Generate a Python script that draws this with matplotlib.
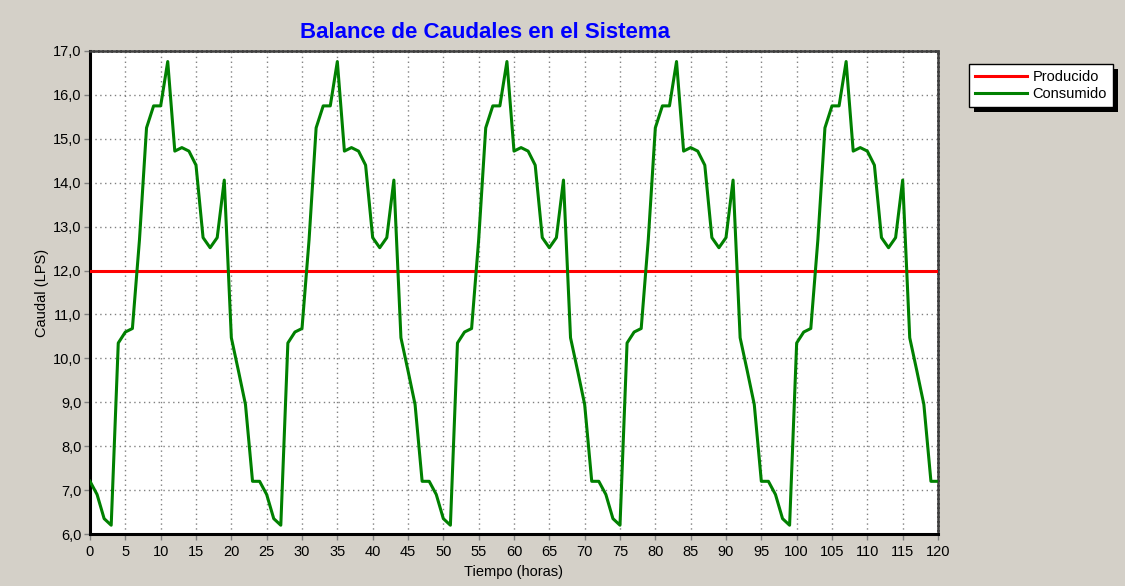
import matplotlib

matplotlib.use("Agg")
import matplotlib.pyplot as plt
from matplotlib.patches import Rectangle
from matplotlib.ticker import FuncFormatter, MultipleLocator

plt.rcParams["font.family"] = ["Liberation Sans", "DejaVu Sans"]

# hourly flow values (LPS)
horas = list(range(121))
producido = [12.0] * 121
consumido = [
    7.2, 6.9, 6.35, 6.2, 10.35, 10.6, 10.68, 12.7, 15.25, 15.75, 15.75, 16.76,
    14.72, 14.8, 14.72, 14.4, 12.75, 12.52, 12.75, 14.06, 10.47, 9.72, 8.95, 7.2,
    7.2, 6.9, 6.35, 6.2, 10.35, 10.6, 10.68, 12.7, 15.25, 15.75, 15.75, 16.76,
    14.72, 14.8, 14.72, 14.4, 12.75, 12.52, 12.75, 14.06, 10.47, 9.72, 8.95, 7.2,
    7.2, 6.9, 6.35, 6.2, 10.35, 10.6, 10.68, 12.7, 15.25, 15.75, 15.75, 16.76,
    14.72, 14.8, 14.72, 14.4, 12.75, 12.52, 12.75, 14.06, 10.47, 9.72, 8.95, 7.2,
    7.2, 6.9, 6.35, 6.2, 10.35, 10.6, 10.68, 12.7, 15.25, 15.75, 15.75, 16.76,
    14.72, 14.8, 14.72, 14.4, 12.75, 12.52, 12.75, 14.06, 10.47, 9.72, 8.95, 7.2,
    7.2, 6.9, 6.35, 6.2, 10.35, 10.6, 10.68, 12.7, 15.25, 15.75, 15.75, 16.76,
    14.72, 14.8, 14.72, 14.4, 12.75, 12.52, 12.75, 14.06, 10.47, 9.72, 8.95, 7.2,
    7.2,
]

bg = "#D4D0C8"
W, H = 1125, 586
fig = plt.figure(figsize=(W / 100, H / 100), dpi=100, facecolor=bg)
ax = fig.add_axes([90 / W, 1 - 534 / H, (938 - 90) / W, (534 - 51) / H])
ax.set_facecolor("white")

ax.plot(horas, producido, color="#FF0000", lw=2.2, label="Producido", zorder=3)
ax.plot(horas, consumido, color="#008000", lw=2.2, label="Consumido", zorder=4)

ax.set_xlim(0, 120)
ax.set_ylim(6, 17)
ax.xaxis.set_major_locator(MultipleLocator(5))
ax.yaxis.set_major_locator(MultipleLocator(1))
ax.yaxis.set_major_formatter(FuncFormatter(lambda v, p: f"{v:.1f}".replace(".", ",")))
ax.tick_params(axis="both", labelsize=10.5, colors="#808080", labelcolor="black",
               length=4, width=1, direction="out")
ax.tick_params(axis="x", pad=4)
ax.tick_params(axis="y", pad=2)
ax.grid(True, color="#808080", linestyle=(0, (1, 2.5)), linewidth=1)

for side in ["left", "bottom"]:
    ax.spines[side].set_color("black")
    ax.spines[side].set_linewidth(2.2)
for side in ["top", "right"]:
    ax.spines[side].set_color("#404040")
    ax.spines[side].set_linewidth(1.8)
    ax.spines[side].set_linestyle((0, (1.2, 0.6)))

ax.set_xlabel("Tiempo (horas)", fontsize=10.5, labelpad=4)
ax.set_ylabel("Caudal (LPS)", fontsize=10.5, labelpad=3)

fig.text(485 / W, 1 - 33 / H, "Balance de Caudales en el Sistema", color="#0000FF",
         fontsize=16, fontweight="bold", ha="center", va="center")

leg = fig.legend(loc="upper left", bbox_to_anchor=(969 / W, 1 - 64 / H), fontsize=10.5,
                 frameon=True, fancybox=False, edgecolor="black", framealpha=1,
                 handlelength=3.6, handletextpad=0.35, borderpad=0.4, labelspacing=0.25,
                 borderaxespad=0)
leg.get_frame().set_linewidth(1)
leg.set_zorder(5)

# drop shadow behind the legend box
fig.canvas.draw()
bb = leg.get_window_extent()
shadow = Rectangle((bb.x0 + 5, bb.y0 - 5), bb.width, bb.height, transform=None,
                   facecolor="black", edgecolor="none", zorder=4)
fig.patches.append(shadow)

fig.savefig("out.png", dpi=100, facecolor=bg)
plt.close(fig)
